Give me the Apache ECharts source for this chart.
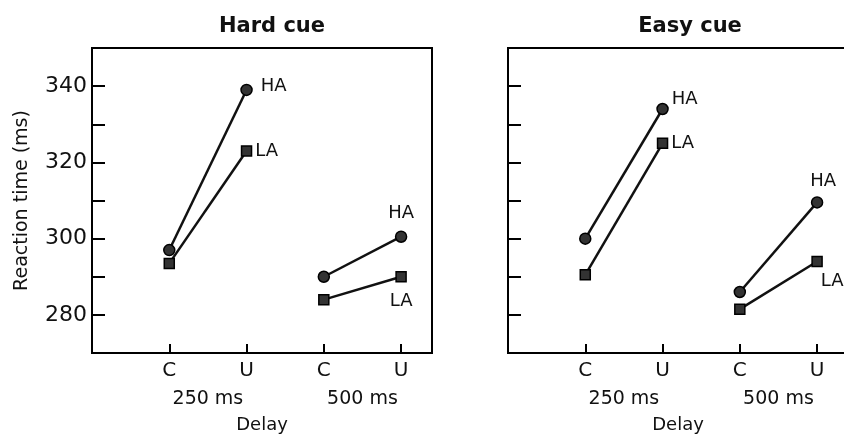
<!DOCTYPE html>
<html>
<head>
<meta charset="utf-8">
<script src="https://cdn.jsdelivr.net/npm/echarts@6/dist/echarts.min.js"></script>
<style>
  html, body { margin: 0; padding: 0; background: #fff; }
  #chart { width: 844px; height: 434px; }
</style>
</head>
<body>
<div id="chart"></div>
<script>
// 数据
const panels = ['Hard cue', 'Easy cue'];
const conditions = ['C', 'U', 'C', 'U'];
const delays = ['250 ms', '500 ms'];
const hardHA = [297, 339, 290, 300.5];
const hardLA = [293.5, 323, 284, 290];
const easyHA = [300, 334, 286, 309.5];
const easyLA = [290.5, 325, 281.5, 294];
const yLabels = [280, 300, 320, 340];

const FONT = 'DejaVu Sans';
const chart = echarts.init(document.getElementById('chart'));

// 每个延迟一段线
function pair(vals, d) {
  return [[2 * d + 1, vals[2 * d]], [2 * d + 2, vals[2 * d + 1]]];
}

function mkSeries(vals, d, grid, sym, label) {
  const data = pair(vals, d);
  data[1] = { value: data[1], label: Object.assign({ show: true, formatter: sym === 'circle' ? 'HA' : 'LA',
    fontFamily: FONT, fontSize: 18, color: '#111' }, label) };
  return {
    type: 'line',
    xAxisIndex: grid * 2,
    yAxisIndex: grid,
    data: data,
    symbol: sym,
    symbolSize: sym === 'circle' ? 11 : 10,
    lineStyle: { color: '#111', width: 2.5 },
    itemStyle: { color: '#333', borderColor: '#000', borderWidth: 1.5 },
    z: sym === 'circle' ? 3 : 4,
    animation: false
  };
}

const grids = [
  { left: 92, top: 48, width: 340, height: 305 },
  { left: 508, top: 48, width: 340, height: 305 }
];

const xAxes = [], yAxes = [];
grids.forEach((g, i) => {
  xAxes.push({
    type: 'value', gridIndex: i, min: 0, max: 4.4, interval: 1,
    name: 'Delay', nameLocation: 'middle', nameGap: 63,
    nameTextStyle: { fontFamily: FONT, fontSize: 18, color: '#111' },
    axisLine: { lineStyle: { color: '#000', width: 2 } },
    axisTick: { inside: true, length: 9, lineStyle: { color: '#000', width: 2 } },
    splitLine: { show: false },
    axisLabel: { fontFamily: FONT, fontSize: 20, color: '#111', margin: 8,
      formatter: v => (v >= 1 && v <= 4) ? conditions[v - 1] : '' }
  });
  xAxes.push({
    type: 'value', gridIndex: i, min: 0, max: 4.4, interval: 0.5, position: 'bottom', offset: 28,
    axisLine: { show: false }, axisTick: { show: false }, splitLine: { show: false },
    axisLabel: { fontFamily: FONT, fontSize: 19, color: '#111', margin: 9,
      formatter: v => v === 1.5 ? delays[0] : (v === 3.5 ? delays[1] : '') }
  });
  yAxes.push({
    type: 'value', gridIndex: i, min: 270, max: 350, interval: 10,
    name: i === 0 ? 'Reaction time (ms)' : '', nameLocation: 'middle', nameGap: 60,
    nameTextStyle: { fontFamily: FONT, fontSize: 19, color: '#111' },
    axisLine: { lineStyle: { color: '#000', width: 2 } },
    axisTick: { inside: true, length: 13, lineStyle: { color: '#000', width: 2 } },
    splitLine: { show: false },
    axisLabel: { show: i === 0, fontFamily: FONT, fontSize: 22, color: '#111', margin: 5,
      formatter: v => yLabels.includes(v) ? String(v) : '' }
  });
});

const option = {
  backgroundColor: '#fff',
  title: [
    { text: panels[0], left: 267, top: 11, textAlign: 'center',
      textStyle: { fontFamily: FONT, fontSize: 21, fontWeight: 'bold', color: '#111' } },
    { text: panels[1], left: 685, top: 11, textAlign: 'center',
      textStyle: { fontFamily: FONT, fontSize: 21, fontWeight: 'bold', color: '#111' } }
  ],
  grid: grids.map(g => Object.assign({ show: true, borderColor: '#000', borderWidth: 2,
    outerBoundsMode: 'none', containLabel: false }, g)),
  xAxis: xAxes,
  yAxis: yAxes,
  series: [
    mkSeries(hardHA, 0, 0, 'circle', { position: 'right', distance: 8, offset: [0, -4] }),
    mkSeries(hardLA, 0, 0, 'rect', { position: 'right', distance: 3 }),
    mkSeries(hardHA, 1, 0, 'circle', { position: 'top', distance: 8 }),
    mkSeries(hardLA, 1, 0, 'rect', { position: 'bottom', distance: 10 }),
    mkSeries(easyHA, 0, 1, 'circle', { position: 'right', distance: 3, offset: [0, -10] }),
    mkSeries(easyLA, 0, 1, 'rect', { position: 'right', distance: 3 }),
    mkSeries(easyHA, 1, 1, 'circle', { position: 'top', distance: 6, offset: [6, 0] }),
    mkSeries(easyLA, 1, 1, 'rect', { position: 'bottom', distance: 5, offset: [15, 0] })
  ]
};

chart.setOption(option);
</script>
</body>
</html>
